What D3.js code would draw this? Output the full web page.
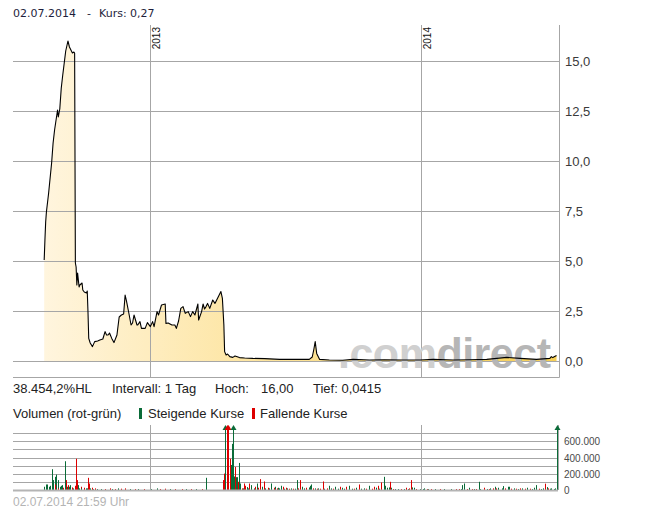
<!DOCTYPE html>
<html>
<head>
<meta charset="utf-8">
<script src="https://cdn.jsdelivr.net/npm/d3@7/dist/d3.min.js"></script>
<style>
  body { margin: 0; background: #fff; }
  svg { display: block; font-family: "Liberation Sans", Arial, sans-serif; }
</style>
</head>
<body>
<svg id="chart" width="647" height="511"></svg>
<script>
// daily close (EUR)
const price = [
  ["2012-08-11",5.05],["2012-08-12",6.05],["2012-08-13",6.95],["2012-08-14",7.45],["2012-08-17",8.4],
  ["2012-08-21",9.9],["2012-08-23",10.9],["2012-08-25",11.55],["2012-08-29",12.55],["2012-08-30",12.2],
  ["2012-09-01",12.6],["2012-09-03",13.65],["2012-09-05",14.3],["2012-09-07",14.9],["2012-09-09",15.5],
  ["2012-09-12",16.0],["2012-09-14",15.7],["2012-09-16",15.55],["2012-09-18",15.4],["2012-09-20",15.45],
  ["2012-09-21",15.4],["2012-09-22",4.9],["2012-09-23",4.7],["2012-09-24",3.8],["2012-09-25",4.4],
  ["2012-09-27",3.7],["2012-09-28",3.8],["2012-10-01",3.9],["2012-10-02",3.55],["2012-10-04",3.45],
  ["2012-10-07",3.4],["2012-10-08",3.5],["2012-10-09",2.45],["2012-10-10",1.13],["2012-10-12",0.9],
  ["2012-10-15",0.72],["2012-10-18",0.97],["2012-10-22",1.0],["2012-10-25",1.05],["2012-10-29",1.1],
  ["2012-11-01",1.47],["2012-11-03",1.3],["2012-11-05",1.3],["2012-11-07",1.4],["2012-11-10",1.13],
  ["2012-11-13",0.92],["2012-11-17",1.3],["2012-11-20",2.2],["2012-11-23",2.3],["2012-11-26",2.35],
  ["2012-11-28",3.3],["2012-11-30",2.97],["2012-12-03",2.4],["2012-12-06",1.8],["2012-12-08",1.9],
  ["2012-12-10",2.3],["2012-12-14",1.8],["2012-12-15",1.8],["2012-12-18",1.97],["2012-12-20",1.63],
  ["2012-12-25",1.63],["2012-12-28",1.92],["2013-01-01",1.72],["2013-01-04",1.97],["2013-01-06",1.72],
  ["2013-01-10",2.47],["2013-01-12",2.3],["2013-01-16",2.8],["2013-01-21",2.85],["2013-01-22",1.88],
  ["2013-01-25",1.9],["2013-01-30",1.8],["2013-02-03",1.8],["2013-02-05",1.63],["2013-02-08",2.0],
  ["2013-02-11",2.63],["2013-02-14",2.72],["2013-02-17",2.38],["2013-02-21",2.47],["2013-02-24",2.22],
  ["2013-02-27",2.47],["2013-03-02",2.3],["2013-03-06",2.85],["2013-03-07",2.05],["2013-03-11",2.47],
  ["2013-03-13",2.85],["2013-03-15",2.6],["2013-03-17",2.72],["2013-03-19",2.88],["2013-03-22",2.63],
  ["2013-03-26",3.05],["2013-03-29",2.88],["2013-04-03",3.25],["2013-04-06",3.47],["2013-04-08",3.13],
  ["2013-04-10",1.8],["2013-04-11",0.47],["2013-04-13",0.3],["2013-04-15",0.35],["2013-04-18",0.22],
  ["2013-04-22",0.18],["2013-04-25",0.25],["2013-05-01",0.17],["2013-05-08",0.15],["2013-05-19",0.13],
  ["2013-06-04",0.12],["2013-06-24",0.08],["2013-07-14",0.09],["2013-08-03",0.08],["2013-08-07",0.2],
  ["2013-08-09",0.55],["2013-08-11",0.97],["2013-08-13",0.38],["2013-08-17",0.08],["2013-08-30",0.05],
  ["2013-09-17",0.04],["2013-10-01",0.08],["2013-10-23",0.05],["2013-11-12",0.06],["2013-12-07",0.05],
  ["2013-12-30",0.05],["2014-01-17",0.08],["2014-02-13",0.05],["2014-03-07",0.06],["2014-03-30",0.08],
  ["2014-04-26",0.18],["2014-05-14",0.13],["2014-06-05",0.08],["2014-06-23",0.13],["2014-06-25",0.22],
  ["2014-06-27",0.17],["2014-07-02",0.27]
];

// volume: date, pieces, 1 = steigend / -1 = fallend
const volume = [
  ["2012-08-11",40000,1],["2012-08-13",68000,1],["2012-08-14",40000,1],["2012-08-15",68000,1],
  ["2012-08-18",40000,1],["2012-08-19",52000,1],["2012-08-21",60000,1],["2012-08-22",256000,1],
  ["2012-08-23",122000,1],["2012-08-25",162000,1],["2012-08-26",68000,-1],["2012-08-27",190000,1],
  ["2012-08-29",122000,1],["2012-08-30",20000,-1],["2012-09-01",40000,1],["2012-09-02",52000,1],
  ["2012-09-04",60000,1],["2012-09-06",28000,-1],["2012-09-08",354000,1],["2012-09-09",122000,-1],
  ["2012-09-11",40000,1],["2012-09-12",60000,-1],["2012-09-13",40000,1],["2012-09-15",60000,1],
  ["2012-09-17",32000,-1],["2012-09-19",20000,1],["2012-09-21",52000,-1],["2012-09-23",385000,-1],
  ["2012-09-24",122000,-1],["2012-09-25",60000,1],["2012-09-27",20000,1],["2012-09-29",40000,-1],
  ["2012-09-30",20000,1],["2012-10-03",28000,-1],["2012-10-06",20000,1],["2012-10-08",20000,1],
  ["2012-10-09",150000,-1],["2012-10-10",80000,-1],["2012-10-12",20000,1],["2012-10-14",28000,-1],
  ["2012-10-16",10000,1],["2012-10-18",20000,-1],["2012-10-21",12000,1],["2012-10-27",12000,1],
  ["2012-11-01",12000,-1],["2012-11-07",20000,-1],["2012-11-10",12000,1],["2012-11-14",12000,-1],
  ["2012-11-18",20000,1],["2012-11-23",16000,-1],["2012-11-28",20000,-1],["2012-12-04",12000,1],
  ["2012-12-11",12000,-1],["2012-12-16",12000,1],["2012-12-24",12000,-1],["2013-01-02",12000,1],
  ["2013-01-10",20000,1],["2013-01-14",12000,-1],["2013-01-21",16000,-1],["2013-01-27",12000,1],
  ["2013-02-03",12000,-1],["2013-02-12",12000,-1],["2013-02-18",12000,1],["2013-02-25",12000,-1],
  ["2013-03-04",12000,1],["2013-03-11",12000,-1],["2013-03-17",150000,1],["2013-04-09",122000,-1],
  ["2013-04-10",202000,-1],["2013-04-12",1100000,1],["2013-04-14",1100000,-1],["2013-04-15",354000,-1],
  ["2013-04-16",1100000,-1],["2013-04-18",385000,-1],["2013-04-19",308000,1],["2013-04-21",568000,1],
  ["2013-04-22",1100000,1],["2013-04-24",166000,1],["2013-04-25",284000,-1],["2013-04-26",158000,1],
  ["2013-04-28",158000,1],["2013-04-29",101000,-1],["2013-04-30",333000,1],["2013-05-02",80000,1],
  ["2013-05-04",20000,-1],["2013-05-06",20000,1],["2013-05-07",80000,-1],["2013-05-09",52000,-1],
  ["2013-05-11",36000,1],["2013-05-13",20000,1],["2013-05-14",80000,-1],["2013-05-16",60000,1],
  ["2013-05-20",20000,1],["2013-05-22",40000,-1],["2013-05-24",80000,1],["2013-05-26",28000,-1],
  ["2013-05-28",134000,-1],["2013-05-29",80000,-1],["2013-05-31",40000,1],["2013-06-03",105000,-1],
  ["2013-06-05",20000,1],["2013-06-08",28000,-1],["2013-06-10",20000,1],["2013-06-13",80000,1],
  ["2013-06-16",28000,-1],["2013-06-18",40000,1],["2013-06-20",20000,-1],["2013-06-22",28000,1],
  ["2013-06-23",20000,1],["2013-06-26",52000,1],["2013-06-28",40000,-1],["2013-06-30",16000,1],
  ["2013-07-02",28000,-1],["2013-07-04",20000,1],["2013-07-07",16000,-1],["2013-07-09",20000,1],
  ["2013-07-12",16000,-1],["2013-07-15",16000,1],["2013-07-17",122000,1],["2013-07-19",20000,-1],
  ["2013-07-22",122000,-1],["2013-07-24",40000,1],["2013-07-27",20000,1],["2013-07-30",28000,-1],
  ["2013-08-02",32000,1],["2013-08-04",52000,1],["2013-08-06",68000,1],["2013-08-08",20000,-1],
  ["2013-08-11",20000,1],["2013-08-13",16000,-1],["2013-08-15",20000,1],["2013-08-17",16000,-1],
  ["2013-08-21",105000,-1],["2013-08-23",16000,1],["2013-08-27",20000,-1],["2013-08-29",52000,1],
  ["2013-09-01",20000,1],["2013-09-04",16000,-1],["2013-09-07",40000,1],["2013-09-11",16000,1],
  ["2013-09-14",40000,-1],["2013-09-16",28000,1],["2013-09-19",16000,1],["2013-09-22",40000,-1],
  ["2013-09-25",52000,1],["2013-09-29",16000,1],["2013-10-02",16000,-1],["2013-10-05",28000,1],
  ["2013-10-09",68000,-1],["2013-10-12",16000,1],["2013-10-16",20000,1],["2013-10-19",16000,-1],
  ["2013-10-22",52000,1],["2013-10-26",16000,-1],["2013-10-29",40000,-1],["2013-11-01",28000,1],
  ["2013-11-04",52000,-1],["2013-11-05",16000,1],["2013-11-08",93000,-1],["2013-11-12",162000,1],
  ["2013-11-13",52000,1],["2013-11-16",28000,1],["2013-11-18",32000,1],["2013-11-20",101000,-1],
  ["2013-11-21",28000,1],["2013-11-24",12000,-1],["2013-11-27",12000,1],["2013-11-30",12000,1],
  ["2013-12-05",12000,-1],["2013-12-09",12000,1],["2013-12-11",28000,-1],["2013-12-14",12000,1],
  ["2013-12-16",20000,-1],["2013-12-18",122000,-1],["2013-12-19",32000,1],["2013-12-22",28000,1],
  ["2013-12-25",12000,-1],["2013-12-30",12000,1],["2014-01-03",12000,1],["2014-01-05",20000,1],
  ["2014-01-08",12000,-1],["2014-01-10",12000,1],["2014-01-14",12000,-1],["2014-01-19",12000,1],
  ["2014-01-26",12000,-1],["2014-02-01",12000,1],["2014-02-10",12000,1],["2014-02-17",12000,-1],
  ["2014-02-21",12000,-1],["2014-02-24",12000,1],["2014-02-25",60000,1],["2014-02-27",80000,1],
  ["2014-03-03",12000,-1],["2014-03-06",28000,1],["2014-03-10",12000,-1],["2014-03-13",12000,1],
  ["2014-03-16",12000,-1],["2014-03-19",101000,1],["2014-03-21",12000,1],["2014-03-26",28000,-1],
  ["2014-03-30",12000,1],["2014-04-02",12000,-1],["2014-04-04",20000,1],["2014-04-07",20000,-1],
  ["2014-04-10",40000,1],["2014-04-12",20000,-1],["2014-04-14",28000,1],["2014-04-19",20000,1],
  ["2014-04-21",48000,1],["2014-04-23",20000,-1],["2014-04-27",40000,1],["2014-04-29",40000,1],
  ["2014-05-02",16000,-1],["2014-05-06",20000,1],["2014-05-09",16000,-1],["2014-05-11",12000,1],
  ["2014-05-14",20000,-1],["2014-05-17",20000,1],["2014-05-20",16000,-1],["2014-05-23",28000,1],
  ["2014-05-27",16000,-1],["2014-05-30",12000,1],["2014-06-02",28000,1],["2014-06-05",60000,1],
  ["2014-06-08",16000,-1],["2014-06-11",12000,1],["2014-06-14",20000,1],["2014-06-16",78000,-1],
  ["2014-06-19",36000,1],["2014-06-21",20000,-1],["2014-06-23",16000,1],["2014-06-25",20000,1],
  ["2014-06-28",12000,1],["2014-06-30",20000,1],["2014-07-02",1100000,1]
];

const priceTicks = [0, 2.5, 5, 7.5, 10, 12.5, 15];
const volumeGrid = [100000, 200000, 300000, 400000, 500000, 600000, 700000];
const volumeTicks = [0, 200000, 400000, 600000];
const stats = [["38.454,2%HL", 13], ["Intervall: 1 Tag", 112], ["Hoch:", 215], ["16,00", 261], ["Tief: 0,0415", 313]];

var svg = d3.select("#chart");
var parse = d3.timeParse("%Y-%m-%d");
var de = d3.formatLocale({decimal: ",", thousands: ".", grouping: [3], currency: ["", " €"]});

var left = 13, right = 558,
    top1 = 25, bottom1 = 377,
    top2 = 425, bottom2 = 490;

var x = d3.scaleTime()
  .domain([parse("2012-06-30"), parse("2014-07-04")])
  .range([left, right]);

var y = d3.scaleLinear().domain([-0.8, 16.8]).range([bottom1, top1]);
var yv = d3.scaleLinear().domain([0, 800000]).range([bottom2, top2]);

var years = x.ticks(d3.timeYear.every(1));
var gridColor = "#a6a6a6";

svg.append("rect").attr("width", 647).attr("height", 511).attr("fill", "#fff");

// header
var head = svg.append("g").style("font-family", "'DejaVu Sans', Verdana, sans-serif")
  .style("font-size", "11px").attr("fill", "#1e1e3c");
head.append("text").attr("x", 13).attr("y", 17).text("02.07.2014");
head.append("text").attr("x", 87).attr("y", 17).text("-");
head.append("text").attr("x", 99).attr("y", 17).text("Kurs: 0,27");

// ---- price panel
var defs = svg.append("defs");
var grad = defs.append("linearGradient").attr("id", "fillgrad")
  .attr("gradientUnits", "userSpaceOnUse")
  .attr("x1", x(parse(price[0][0]))).attr("x2", right).attr("y1", 0).attr("y2", 0);
grad.append("stop").attr("offset", 0).attr("stop-color", "#fff5de");
grad.append("stop").attr("offset", 0.4).attr("stop-color", "#fde5a2");
grad.append("stop").attr("offset", 1).attr("stop-color", "#f6cf55");

var area = d3.area()
  .x(d => x(parse(d[0])))
  .y0(y(0))
  .y1(d => y(d[1]));

var line = d3.line()
  .x(d => x(parse(d[0])))
  .y(d => y(d[1]));

svg.append("path").datum(price).attr("d", area).attr("fill", "url(#fillgrad)");

svg.append("g").selectAll("line").data(priceTicks).enter().append("line")
  .attr("x1", left).attr("x2", right + 1)
  .attr("y1", d => Math.round(y(d)) + 0.5).attr("y2", d => Math.round(y(d)) + 0.5)
  .attr("stroke", gridColor);

svg.append("g").selectAll("line").data(years).enter().append("line")
  .attr("x1", d => Math.round(x(d)) + 0.5).attr("x2", d => Math.round(x(d)) + 0.5)
  .attr("y1", top1).attr("y2", bottom1)
  .attr("stroke", gridColor);

// frame: right and bottom
svg.append("line").attr("x1", right + 1.5).attr("x2", right + 1.5).attr("y1", top1).attr("y2", bottom1 + 0.5).attr("stroke", gridColor);
svg.append("line").attr("x1", left).attr("x2", right + 1.5).attr("y1", bottom1 + 0.5).attr("y2", bottom1 + 0.5).attr("stroke", gridColor);

svg.append("g").selectAll("text").data(years).enter().append("text")
  .attr("transform", d => "translate(" + (Math.round(x(d)) + 10) + "," + (top1 + 2) + ") rotate(-90)")
  .attr("text-anchor", "end")
  .style("font-size", "10px").attr("fill", "#111")
  .text(d3.timeFormat("%Y"));

svg.append("g").selectAll("text").data(priceTicks).enter().append("text")
  .attr("x", right + 7).attr("y", d => y(d) + 5)
  .style("font-size", "13px").attr("fill", "#3a3a3a")
  .text(d => de.format(",.1f")(d));

// watermark
var wm = svg.append("text").attr("x", 338).attr("y", 368)
  .style("font-size", "43px").style("font-weight", "bold").style("letter-spacing", "-0.5px");
wm.append("tspan").attr("fill", "#d0d0d0").text(".com");
wm.append("tspan").attr("fill", "#b6b6b6").text("direct");

svg.append("path").datum(price).attr("d", line)
  .attr("fill", "none").attr("stroke", "#000").attr("stroke-width", 1.1)
  .attr("stroke-linejoin", "round");

// stats line
svg.append("g").selectAll("text").data(stats).enter().append("text")
  .attr("x", d => d[1]).attr("y", 393)
  .style("font-size", "13px").attr("fill", "#222")
  .text(d => d[0]);

// volume legend
var up = "#0a6b38", down = "#dd0000";
svg.append("text").attr("x", 13).attr("y", 418).style("font-size", "13px").attr("fill", "#222").text("Volumen (rot-grün)");
svg.append("rect").attr("x", 139).attr("y", 408).attr("width", 3).attr("height", 11).attr("fill", up);
svg.append("text").attr("x", 148).attr("y", 418).style("font-size", "13px").attr("fill", "#222").text("Steigende Kurse");
svg.append("rect").attr("x", 252).attr("y", 408).attr("width", 3).attr("height", 11).attr("fill", down);
svg.append("text").attr("x", 260).attr("y", 418).style("font-size", "13px").attr("fill", "#222").text("Fallende Kurse");

// ---- volume panel
svg.append("g").selectAll("line").data(volumeGrid).enter().append("line")
  .attr("x1", left).attr("x2", right)
  .attr("y1", d => Math.round(yv(d)) + 0.5).attr("y2", d => Math.round(yv(d)) + 0.5)
  .attr("stroke", gridColor);

svg.append("g").selectAll("line").data(years).enter().append("line")
  .attr("x1", d => Math.round(x(d)) + 0.5).attr("x2", d => Math.round(x(d)) + 0.5)
  .attr("y1", top2).attr("y2", bottom2)
  .attr("stroke", gridColor);

svg.append("line").attr("x1", right + 0.5).attr("x2", right + 0.5).attr("y1", top2).attr("y2", bottom2).attr("stroke", gridColor);

var vmax = yv.domain()[1];
var bars = svg.append("g");
bars.selectAll("rect").data(volume).enter().append("rect")
  .attr("x", d => Math.round(x(parse(d[0]))))
  .attr("width", 1)
  .attr("y", d => d[1] > vmax ? top2 + 4 : yv(d[1]))
  .attr("height", d => bottom2 - (d[1] > vmax ? top2 + 4 : yv(d[1])))
  .attr("fill", d => d[2] > 0 ? up : down);

// arrows for bars running off the scale
bars.selectAll("path").data(volume.filter(d => d[1] > vmax)).enter().append("path")
  .attr("d", d => {
    var cx = Math.round(x(parse(d[0]))) + 0.5;
    return "M" + (cx - 3) + "," + (top2 + 5) + "L" + cx + "," + top2 + "L" + (cx + 3) + "," + (top2 + 5) + "Z";
  })
  .attr("fill", d => d[2] > 0 ? up : down);

// zero line
svg.append("line").attr("x1", left).attr("x2", right).attr("y1", bottom2 + 0.5).attr("y2", bottom2 + 0.5)
  .attr("stroke", "#b4b4b4").attr("stroke-width", 2);

svg.append("g").selectAll("text").data(volumeTicks).enter().append("text")
  .attr("x", right + 6).attr("y", d => yv(d) + 4)
  .style("font-size", "10px").attr("fill", "#4a4a4a")
  .text(d => de.format(",d")(d));

svg.append("text").attr("x", 13).attr("y", 506)
  .style("font-size", "12px").attr("fill", "#b4b4b4")
  .text("02.07.2014 21:59 Uhr");
</script>
</body>
</html>
